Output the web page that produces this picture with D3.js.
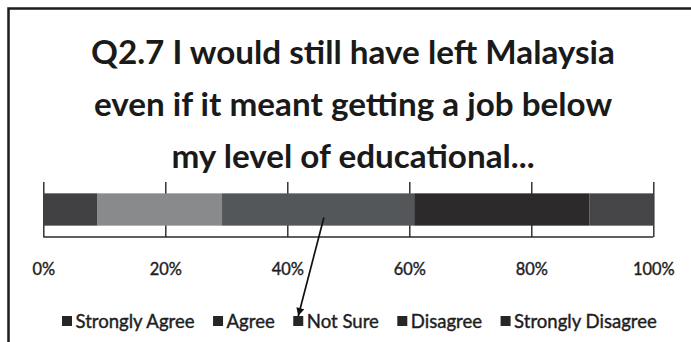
<!DOCTYPE html>
<html>
<head>
<meta charset="utf-8">
<script src="https://cdn.jsdelivr.net/npm/d3@7"></script>
<style>
  html, body { margin: 0; padding: 0; background: #ffffff; }
  svg { display: block; }
</style>
</head>
<body>
<svg id="chart" width="691" height="342"></svg>
<script>
// Survey responses (percent of respondents), stacked left to right
const categories = ["Strongly Agree", "Agree", "Not Sure", "Disagree", "Strongly Disagree"];
const values = [8.9, 20.4, 31.5, 28.7, 10.5];
const tickValues = [0, 20, 40, 60, 80, 100];
const titleLines = [
  "Q2.7 I would still have left Malaysia",
  "even if it meant getting a job below",
  "my level of educational..."
];
const question = "Q2.7";

// Palette for the segments
const palette = ["#414144", "#898a8c", "#54575a", "#2d2a2b", "#454547"];
const legendSwatch = "#262626";
const fontFamily = "Lato, 'Open Sans', 'DejaVu Sans', sans-serif";

const svg = d3.select("#chart");
const W = 691, H = 342;

// Frame (top and left rules)
svg.append("path")
  .attr("d", `M8.5,${H} V8.5 H${W}`)
  .attr("fill", "none")
  .attr("stroke", "#1c1c1c")
  .attr("stroke-width", 2.5);

// Scale a text run so its rendered width hits a target
function fitFont(sel, target) {
  const w = sel.node().getComputedTextLength();
  const fs = parseFloat(sel.attr("font-size"));
  return fs * target / w;
}

// Title
const titleG = svg.append("g").attr("font-family", fontFamily)
  .attr("font-weight", "bold").attr("fill", "#1a1a1a").attr("text-anchor", "middle");
const titleBaselines = [64, 116, 168];
const titleTexts = titleG.selectAll("text").data(titleLines).join("text")
  .attr("x", 353)
  .attr("y", (d, i) => titleBaselines[i])
  .attr("font-size", 32)
  .text(d => d);
const titleSize = fitFont(titleTexts.filter((d, i) => i === 0), 524);
titleTexts.attr("font-size", titleSize);

// Scales
const x = d3.scaleLinear().domain([0, 100]).range([43.3, 653.3]);
const plotTop = 182, plotBottom = 237;
const y = d3.scaleBand().domain([question]).range([plotTop, plotBottom]).padding(0.26);

// Gridlines + axis
const axis = d3.axisBottom(x)
  .tickValues(tickValues)
  .tickFormat(d => d + "%")
  .tickSizeInner(-(plotBottom - plotTop))
  .tickSizeOuter(0);

const axisG = svg.append("g")
  .attr("transform", `translate(0,${plotBottom})`)
  .call(axis);
axisG.select(".domain").remove();
axisG.selectAll(".tick line").attr("stroke", "#262626").attr("stroke-width", 1.4);
const tickText = axisG.selectAll(".tick text")
  .attr("font-family", fontFamily)
  .attr("font-size", 16)
  .attr("fill", "#1e1e1e")
  .attr("stroke", "#1e1e1e")
  .attr("stroke-width", 0.4)
  .attr("dy", null)
  .attr("y", 38);
const tickSize = fitFont(tickText.filter(d => d === 100), 41.7);
tickText.attr("font-size", tickSize);

// Stacked segments
const starts = [0, ...d3.cumsum(values)].slice(0, values.length);
svg.append("g").selectAll("rect")
  .data(values.map((v, i) => ({ cat: categories[i], v, s: starts[i], i })))
  .join("rect")
  .attr("x", d => x(d.s))
  .attr("y", y(question))
  .attr("width", d => x(d.s + d.v) - x(d.s))
  .attr("height", y.bandwidth())
  .attr("fill", d => palette[d.i]);

// Baseline under the bar
svg.append("line")
  .attr("x1", x(0)).attr("x2", x(100))
  .attr("y1", plotBottom).attr("y2", plotBottom)
  .attr("stroke", "#2a2a2a").attr("stroke-width", 1.6);

// Legend
const legendG = svg.append("g").attr("font-family", fontFamily)
  .attr("fill", "#1e1e1e").attr("stroke", "#1e1e1e").attr("stroke-width", 0.4);
const legendBaseline = 327.5, swatch = 10, textOffset = 13.5, itemGap = 18.5;
const legendTexts = legendG.selectAll("text").data(categories).join("text")
  .attr("font-size", 18)
  .attr("y", legendBaseline)
  .text(d => d);
let measured = 0;
legendTexts.each(function () { measured += this.getComputedTextLength(); });
const legendSize = 18 * 453.7 / measured;
legendTexts.attr("font-size", legendSize);
let cx = 62;
const swatchX = [];
legendTexts.each(function () {
  swatchX.push(cx);
  d3.select(this).attr("x", cx + textOffset);
  cx += textOffset + this.getComputedTextLength() + itemGap;
});
legendG.selectAll("rect").data(categories).join("rect")
  .attr("x", (d, i) => swatchX[i])
  .attr("y", legendBaseline - 11.5)
  .attr("width", swatch)
  .attr("height", swatch)
  .attr("stroke", "none")
  .attr("fill", legendSwatch);

// Arrow from the "Not Sure" segment down to its legend key
const nsIndex = categories.indexOf("Not Sure");
svg.append("defs").append("marker")
  .attr("id", "arrowhead")
  .attr("viewBox", "0 0 10 10")
  .attr("refX", 10).attr("refY", 5)
  .attr("markerWidth", 10).attr("markerHeight", 8)
  .attr("markerUnits", "userSpaceOnUse")
  .attr("orient", "auto")
  .append("path")
  .attr("d", "M0,0 L10,5 L0,10 Z")
  .attr("fill", "#111");
svg.append("line")
  .attr("x1", x(46))
  .attr("y1", y(question) + y.bandwidth() * 0.75)
  .attr("x2", swatchX[nsIndex] + swatch / 2)
  .attr("y2", legendBaseline - 11.5)
  .attr("stroke", "#111")
  .attr("stroke-width", 1.7)
  .attr("marker-end", "url(#arrowhead)");
</script>
</body>
</html>
